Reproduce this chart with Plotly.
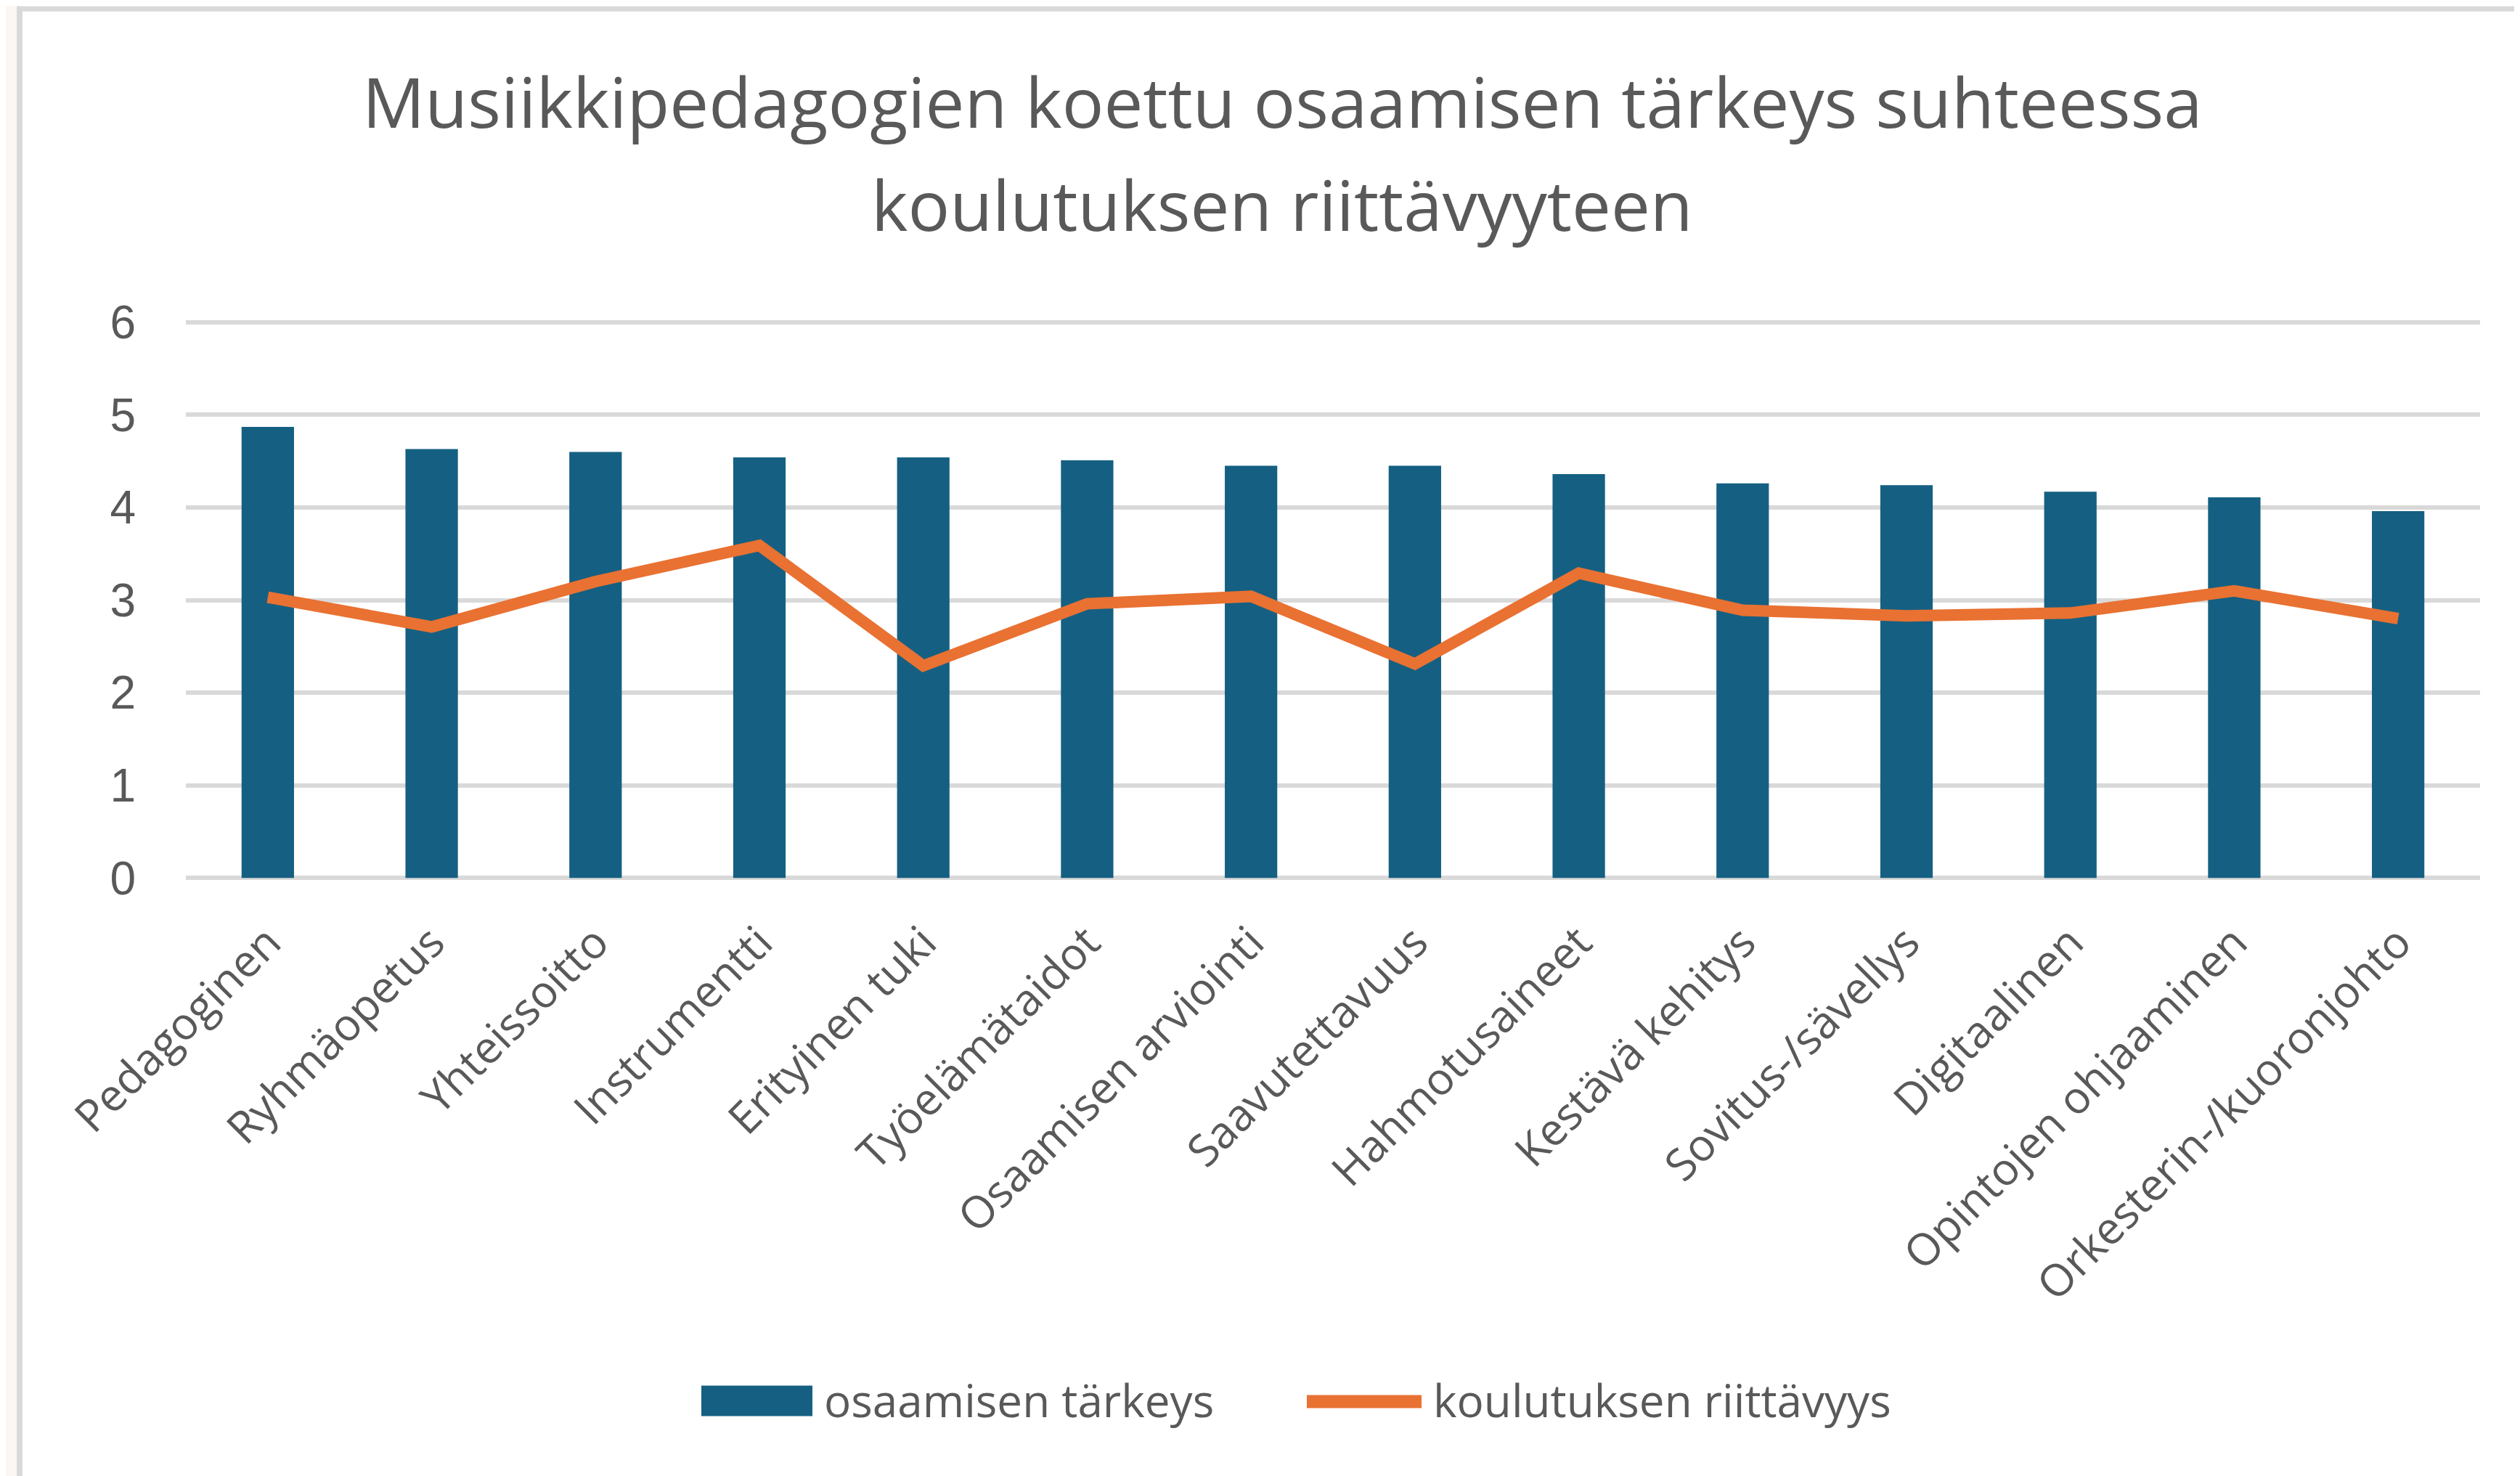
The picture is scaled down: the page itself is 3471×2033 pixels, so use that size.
import plotly.graph_objects as go

categories = ["Pedagoginen", "Ryhmäopetus", "Yhteissoitto", "Instrumentti", "Erityinen tuki",
              "Työelämätaidot", "Osaamisen arviointi", "Saavutettavuus", "Hahmotusaineet",
              "Kestävä kehitys", "Sovitus-/sävellys", "Digitaalinen", "Opintojen ohjaaminen",
              "Orkesterin-/kuoronjohto"]
osaamisen_tarkeys = [4.87, 4.63, 4.60, 4.54, 4.54, 4.51, 4.45, 4.45, 4.36, 4.26, 4.24, 4.17, 4.11, 3.96]
koulutuksen_riittavyys = [3.03, 2.71, 3.20, 3.59, 2.29, 2.96, 3.04, 2.31, 3.29, 2.89, 2.83, 2.86, 3.10, 2.80]
y_ticks = [0, 1, 2, 3, 4, 5, 6]
series_names = ["osaamisen tärkeys", "koulutuksen riittävyys"]
title_lines = ["Musiikkipedagogien koettu osaamisen tärkeys suhteessa", "koulutuksen riittävyyteen"]

OFF = 8  # browser default body margin
W, H = 3471 - OFF, 2033 - OFF
PAD = 0.03  # small range padding so gridlines at 0 and 6 are drawn
UNIT = 127.5
L, R = 256 - OFF, 3416 - OFF
T = 444 - OFF - PAD * UNIT
B = 1209 - OFF + PAD * UNIT
BLUE = "#156082"
ORANGE = "#E97132"
TXT = "#595959"
GRID = "#d9d9d9"
FONT = "Open Sans"


def px(x):
    """page pixel x -> paper fraction"""
    return (x - OFF - L) / (R - L)


def py(y):
    """page pixel y -> paper fraction"""
    return (B - (y - OFF)) / (B - T)


fig = go.Figure()
fig.add_trace(go.Bar(x=categories, y=osaamisen_tarkeys, name=series_names[0],
                     marker=dict(color=BLUE, line=dict(width=0)), showlegend=False))
fig.add_trace(go.Scatter(x=categories, y=koulutuksen_riittavyys, name=series_names[1],
                         mode="lines", line=dict(color=ORANGE, width=16), showlegend=False))

shapes = [
    dict(type="rect", xref="paper", yref="paper", x0=px(0), x1=px(23), y0=py(2033), y1=py(0),
         fillcolor="#fdf7f3", line=dict(width=0), layer="below"),
    dict(type="rect", xref="paper", yref="paper", x0=px(0), x1=px(3471), y0=py(9), y1=py(0),
         fillcolor="#fdf7f3", line=dict(width=0), layer="below"),
    dict(type="rect", xref="paper", yref="paper", x0=px(23), x1=px(31), y0=py(2033), y1=py(9),
         fillcolor=GRID, line=dict(width=0), layer="below"),
    dict(type="rect", xref="paper", yref="paper", x0=px(23), x1=px(3471), y0=py(16), y1=py(9),
         fillcolor=GRID, line=dict(width=0), layer="below"),
    # legend swatches
    dict(type="rect", xref="paper", yref="paper", x0=px(966), x1=px(1119), y0=py(1950), y1=py(1908),
         fillcolor=BLUE, line=dict(width=0)),
    dict(type="line", xref="paper", yref="paper", x0=px(1800), x1=px(1958), y0=py(1930), y1=py(1930),
         line=dict(color=ORANGE, width=18)),
]

annotations = [
    dict(text=title_lines[0], xref="paper", yref="paper", x=px(1766), y=py(139),
         xanchor="center", yanchor="middle", showarrow=False,
         font=dict(family=FONT, size=96, color=TXT)),
    dict(text=title_lines[1], xref="paper", yref="paper", x=px(1766), y=py(281),
         xanchor="center", yanchor="middle", showarrow=False,
         font=dict(family=FONT, size=96, color=TXT)),
    dict(text=series_names[0], xref="paper", yref="paper", x=px(1133), y=py(1928),
         xanchor="left", yanchor="middle", showarrow=False,
         font=dict(family=FONT, size=62, color=TXT)),
    dict(text=series_names[1], xref="paper", yref="paper", x=px(1972), y=py(1928),
         xanchor="left", yanchor="middle", showarrow=False,
         font=dict(family=FONT, size=62, color=TXT)),
]

fig.update_layout(
    width=W, height=H,
    margin=dict(l=L, r=W - R, t=T, b=H - B, pad=0),
    paper_bgcolor="white", plot_bgcolor="white",
    bargap=0.68,
    showlegend=False,
    shapes=shapes,
    annotations=annotations,
    font=dict(family=FONT, color=TXT),
)
fig.update_yaxes(range=[-PAD, 6 + PAD], tickvals=y_ticks, ticktext=[str(v) for v in y_ticks],
                 showgrid=True, gridcolor=GRID, gridwidth=6, zeroline=False,
                 showline=False, ticks="", ticklabelstandoff=68,
                 tickfont=dict(family="Liberation Sans", size=64, color=TXT), fixedrange=True)
fig.update_xaxes(tickangle=-45, showgrid=False, showline=False, zeroline=False, ticks="",
                 ticklabelstandoff=36,
                 tickfont=dict(family=FONT, size=61, color=TXT), fixedrange=True)

fig.write_html("out.html", config={"displayModeBar": False})
